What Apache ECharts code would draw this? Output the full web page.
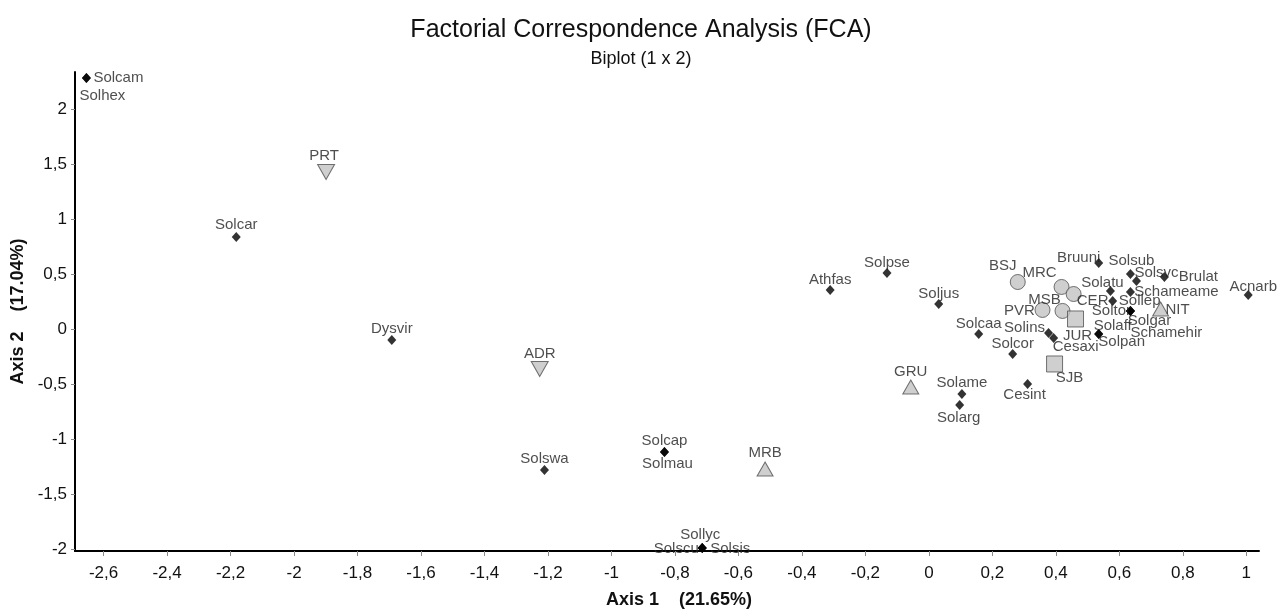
<!DOCTYPE html>
<html>
<head>
<meta charset="utf-8">
<title>FCA biplot</title>
<script src="https://cdn.jsdelivr.net/npm/echarts@6/dist/echarts.min.js"></script>
<style>
  html, body { margin: 0; padding: 0; background: #fff; }
  #container { width: 1282px; height: 615px; }
</style>
</head>
<body>
<div id="container"></div>
<script>
// species (black diamonds)
var speciesNames = ['Solcam', 'Solhex', 'Solcar', 'Dysvir', 'Solswa', 'Solcap', 'Solmau',
    'Sollyc', 'Solscu', 'Solsis', 'Athfas', 'Solpse', 'Soljus', 'Solcaa', 'Solame', 'Solarg',
    'Cesint', 'Solcor', 'Solins', 'Cesaxi', 'Solaff', 'Solpan', 'Soltor', 'Solgar', 'Schamehir',
    'Sollep', 'Solatu', 'Schameame', 'Solsvc', 'Solsub', 'Brulat', 'Bruuni', 'Acnarb'];
var speciesX = [-2.654, -2.654, -2.182, -1.692, -1.211, -0.833, -0.833,
    -0.714, -0.714, -0.714, -0.311, -0.132, 0.031, 0.157, 0.104, 0.097,
    0.311, 0.264, 0.377, 0.393, 0.535, 0.535, 0.635, 0.635, 0.635,
    0.579, 0.572, 0.635, 0.654, 0.635, 0.742, 0.535, 1.006];
var speciesY = [2.282, 2.282, 0.836, -0.100, -1.282, -1.118, -1.118,
    -1.991, -1.991, -1.991, 0.355, 0.509, 0.227, -0.045, -0.591, -0.691,
    -0.500, -0.227, -0.036, -0.082, -0.045, -0.045, 0.164, 0.164, 0.164,
    0.255, 0.345, 0.336, 0.436, 0.500, 0.473, 0.600, 0.309];

// sites (grey symbols)
var siteNames = ['BSJ', 'MRC', 'CER', 'MSB', 'PVR', 'JUR', 'SJB', 'GRU', 'MRB', 'NIT', 'PRT', 'ADR'];
var siteX = [0.280, 0.418, 0.456, 0.421, 0.358, 0.462, 0.396, -0.057, -0.516, 0.730, -1.899, -1.226];
var siteY = [0.427, 0.382, 0.318, 0.164, 0.173, 0.091, -0.318, -0.527, -1.273, 0.182, 1.427, -0.364];
var siteShape = ['circle', 'circle', 'circle', 'circle', 'circle', 'square', 'square',
    'up', 'up', 'up', 'down', 'down'];

var xTicks = [-2.6, -2.4, -2.2, -2, -1.8, -1.6, -1.4, -1.2, -1, -0.8, -0.6, -0.4, -0.2,
    0, 0.2, 0.4, 0.6, 0.8, 1];
var yTicks = [-2, -1.5, -1, -0.5, 0, 0.5, 1, 1.5, 2];

// where each label sits relative to its point (text centre, px)
var labelOffset = {
    Solcam: [32, 0], Solhex: [16, 18], Solcar: [0, -12], Dysvir: [0, -11], Solswa: [0, -11],
    Solcap: [0, -11], Solmau: [3, 12], Sollyc: [-2, -13], Solscu: [-26, 1], Solsis: [28, 1],
    Athfas: [0, -10], Solpse: [0, -10], Soljus: [0, -10], Solcaa: [0, -10], Solame: [0, -11],
    Solarg: [-1, 13], Cesint: [-3, 11], Solcor: [0, -10], Solins: [-24, -5], Cesaxi: [22, 9],
    Solaff: [14, -8], Solpan: [23, 8], Soltor: [-19, 0], Solgar: [19, 10], Schamehir: [36, 22],
    Sollep: [27, 0], Solatu: [-8, -8], Schameame: [46, 0], Solsvc: [20, -8], Solsub: [1, -13],
    Brulat: [34, 0], Bruuni: [-20, -5], Acnarb: [5, -8],
    BSJ: [-15, -16], MRC: [-22, -14], CER: [19, 7], MSB: [-18, -11], PVR: [-23, 1],
    JUR: [2, 17], SJB: [15, 14], GRU: [0, -15], MRB: [0, -16], NIT: [17, 1],
    PRT: [-2, -16], ADR: [0, -15]
};

var FONT = 'Liberation Sans, Arial, sans-serif';

function fmt(v) {
    return String(v).replace('.', ',');
}

function item(name, x, y) {
    return {
        name: name,
        value: [x, y],
        label: {offset: labelOffset[name] || [0, -12]}
    };
}

var labelStyle = {
    show: true,
    position: 'inside',
    formatter: '{b}',
    color: '#222',
    fontSize: 15,
    fontFamily: FONT
};

var speciesData = [];
for (var i = 0; i < speciesNames.length; i++) {
    speciesData.push(item(speciesNames[i], speciesX[i], speciesY[i]));
}

var shapeStyle = {
    circle: {symbol: 'circle', size: 15, rotate: 0},
    square: {symbol: 'rect', size: 16, rotate: 0},
    up: {symbol: 'triangle', size: [16, 14], rotate: 0},
    down: {symbol: 'triangle', size: [17, 15], rotate: 180}
};

var series = [{
    type: 'scatter',
    name: 'species',
    symbol: 'diamond',
    symbolSize: [9, 10],
    itemStyle: {color: '#000'},
    label: labelStyle,
    data: speciesData,
    z: 2
}];

['circle', 'square', 'up', 'down'].forEach(function (shape) {
    var data = [];
    for (var j = 0; j < siteNames.length; j++) {
        if (siteShape[j] === shape) data.push(item(siteNames[j], siteX[j], siteY[j]));
    }
    var st = shapeStyle[shape];
    series.push({
        type: 'scatter',
        name: shape,
        symbol: st.symbol,
        symbolSize: st.size,
        symbolRotate: st.rotate,
        itemStyle: {color: '#c3c3c3', borderColor: '#505050', borderWidth: 1},
        label: labelStyle,
        data: data,
        z: 3
    });
});

var myChart = echarts.init(document.getElementById('container'));
myChart.setOption({
    animation: false,
    backgroundColor: '#fff',
    title: {
        text: 'Factorial Correspondence Analysis (FCA)',
        subtext: 'Biplot (1 x 2)',
        left: 'center',
        top: 13,
        itemGap: 7,
        textStyle: {fontSize: 25, fontWeight: 'normal', color: '#111', fontFamily: FONT},
        subtextStyle: {fontSize: 18, color: '#111', fontFamily: FONT}
    },
    grid: {left: 75, right: 23, top: 72, bottom: 64},
    xAxis: {
        type: 'value',
        min: -2.69,
        max: 1.04,
        name: 'Axis 1    (21.65%)',
        nameLocation: 'middle',
        nameGap: 40,
        nameTextStyle: {fontSize: 18, fontWeight: 'bold', color: '#111', fontFamily: FONT, padding: [0, 0, 0, 24]},
        splitLine: {show: false},
        axisLine: {onZero: false, lineStyle: {color: '#000', width: 2}},
        axisTick: {show: true, length: 5, customValues: xTicks, lineStyle: {color: '#888'}},
        axisLabel: {
            customValues: xTicks,
            margin: 14,
            fontSize: 17,
            color: '#111',
            fontFamily: FONT,
            formatter: fmt
        }
    },
    yAxis: {
        type: 'value',
        min: -2.018,
        max: 2.336,
        name: 'Axis 2    (17.04%)',
        nameLocation: 'middle',
        nameGap: 48,
        nameTextStyle: {fontSize: 18, fontWeight: 'bold', color: '#111', fontFamily: FONT},
        splitLine: {show: false},
        axisLine: {onZero: false, lineStyle: {color: '#000', width: 2}},
        axisTick: {show: true, length: 4, customValues: yTicks, lineStyle: {color: '#888'}},
        axisLabel: {
            customValues: yTicks,
            margin: 8,
            fontSize: 17,
            color: '#111',
            fontFamily: FONT,
            formatter: fmt
        }
    },
    series: series
});
</script>
</body>
</html>
